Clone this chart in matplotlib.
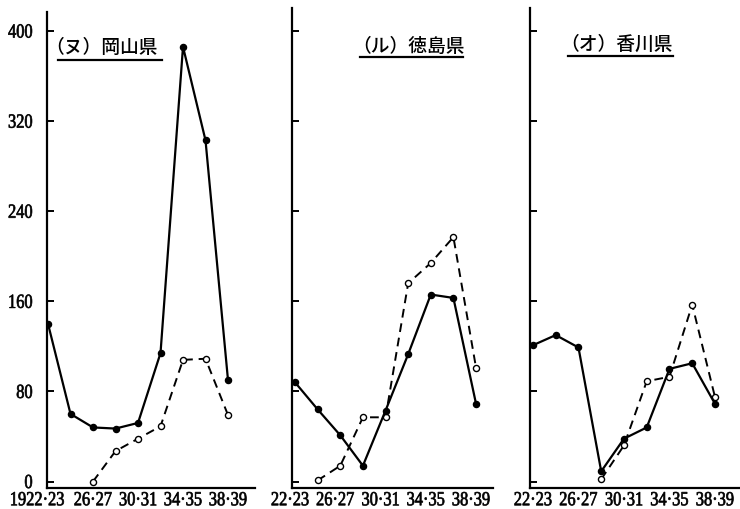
#!/usr/bin/env python3
"""Three-prefecture trend panels (Okayama, Tokushima, Kagawa), 1922-23 to 1938-39."""

import matplotlib

matplotlib.use("Agg")
import matplotlib.pyplot as plt
from matplotlib.font_manager import FontProperties
from matplotlib.lines import Line2D
from matplotlib.patches import PathPatch
from matplotlib.textpath import TextPath
from matplotlib.transforms import Affine2D, ScaledTranslation, blended_transform_factory

plt.rcParams["font.family"] = ["Liberation Serif", "Noto Sans CJK JP", "DejaVu Sans"]

# survey years (first year of each two-year period, 19xx)
years = [22, 24, 26, 28, 30, 32, 34, 36, 38]

okayama_solid = [140, 60, 48, 47, 52, 114, 386, 303, 90]
okayama_dashed_years = [26, 28, 30, 32, 34, 36, 38]
okayama_dashed = [0, 27, 38, 49, 108, 109, 59]

tokushima_solid = [88, 64, 41, 14, 63, 113, 166, 163, 69]
tokushima_dashed_years = [24, 26, 28, 30, 32, 34, 36, 38]
tokushima_dashed = [1, 14, 57, 57, 176, 194, 217, 101]

kagawa_solid = [121, 130, 119, 9, 38, 48, 100, 105, 69]
kagawa_dashed_years = [28, 30, 32, 34, 36, 38]
kagawa_dashed = [2, 32, 89, 93, 157, 75]

titles = ["（ヌ）岡山県", "（ル）徳島県", "（オ）香川県"]
xtick_years = [22, 26, 30, 34, 38]
xtick_labels = ["22·23", "26·27", "30·31", "34·35", "38·39"]
ytick_values = [0, 80, 160, 240, 320, 400]

W, H = 740, 509
NUM_FONT = FontProperties(family="Liberation Serif")
NUM_PX = 20      # em size of the numerals, in pixels
NUM_SQUEEZE = 0.82


def frac(x0, y0, x1, y1):
    """pixel box (top-left origin) -> figure fraction rect"""
    return [x0 / W, 1 - y1 / H, (x1 - x0) / W, (y1 - y0) / H]


def narrow_text(ax, x, y, s, trans, ha="center", va="center", dx=0.0, dy=0.0):
    """Condensed numeral label drawn as a path, anchored at (x, y) in `trans`."""
    tp = TextPath((0, 0), s, size=NUM_PX, prop=NUM_FONT)
    ext = tp.get_extents()
    w = ext.width * NUM_SQUEEZE
    ox = {"left": 0, "center": -w / 2, "right": -w}[ha]
    oy = {"bottom": 0, "center": -ext.height / 2, "top": -ext.height}[va]
    tr = (Affine2D().translate(-ext.x0, -ext.y0).scale(NUM_SQUEEZE, 1.0)
          .translate(ox + dx, oy + dy)
          + ScaledTranslation(x, y, trans))
    patch = PathPatch(tp, transform=tr, facecolor="black", edgecolor="black",
                      lw=0.5, clip_on=False)
    ax.add_artist(patch)


def panel(fig, rect, xlim, ylim, solid, dyears, dashed, title, title_xy, ul,
          first=False, label_shift=0):
    ax = fig.add_axes(rect)
    ax.plot(years, solid, color="black", lw=1.6, marker="o", ms=4.4,
            mfc="black", mec="black", zorder=3)
    ax.plot(dyears, dashed, color="black", lw=1.4, ls=(0, (4.5, 3)), marker="o",
            ms=4.4, mfc="white", mec="black", mew=1.0, zorder=2)
    ax.set_xlim(*xlim)
    ax.set_ylim(*ylim)
    for side in ("top", "right"):
        ax.spines[side].set_visible(False)
    for side in ("left", "bottom"):
        ax.spines[side].set_linewidth(1.6)
    ax.set_yticks(ytick_values)
    ax.tick_params(axis="y", direction="in", length=5, width=1.4, labelleft=False)
    ax.set_xticks([])

    # numerals
    xb = blended_transform_factory(ax.transData, ax.transAxes)
    for i, (yr, lab) in enumerate(zip(xtick_years, xtick_labels)):
        shift = label_shift
        if first and i == 0:
            lab = "1922·23"
            shift = -10.5
        narrow_text(ax, yr, 0, lab, xb, ha="center", va="top", dx=shift, dy=-4)
    if first:
        yb = blended_transform_factory(ax.transAxes, ax.transData)
        for v in ytick_values:
            narrow_text(ax, 0, v, str(v), yb, ha="right", va="center", dx=-15)

    ax.text(title_xy[0], title_xy[1], title, transform=ax.transAxes,
            ha="left", va="center", fontsize=13.5,
            family=["Noto Sans CJK JP"], fontweight="medium")
    ax.add_line(Line2D([ul[0], ul[1]], [ul[2], ul[2]], transform=ax.transAxes,
                       color="black", lw=1.6, clip_on=False))
    ax.set_facecolor("none")
    return ax


def main():
    fig = plt.figure(figsize=(W / 100, H / 100), dpi=100)
    fig.patch.set_facecolor("white")

    # 0 -> 481.5 px, 400 -> 31 px
    scale = (481.5 - 31) / 400
    ybot = -(488 - 481.5) / scale

    panel(fig, frac(47, 12, 255, 488),
          (21.91, 40.4), (ybot, (481.5 - 12) / scale),
          okayama_solid, okayama_dashed_years, okayama_dashed, titles[0],
          (-0.009, 0.926), (0.053, 0.553, 0.899), first=True)
    panel(fig, frac(292, 8, 493, 488),
          (21.73, 39.5), (ybot, (481.5 - 8) / scale),
          tokushima_solid, tokushima_dashed_years, tokushima_dashed, titles[1],
          (0.30, 0.919), (0.338, 0.85, 0.898), label_shift=-5)
    panel(fig, frac(530, 8, 740, 488),
          (21.74, 40.2), (ybot, (481.5 - 8) / scale),
          kagawa_solid, kagawa_dashed_years, kagawa_dashed, titles[2],
          (0.145, 0.925), (0.181, 0.681, 0.9), label_shift=0)

    fig.savefig("out.png", dpi=100)
    plt.close(fig)


if __name__ == "__main__":
    main()
